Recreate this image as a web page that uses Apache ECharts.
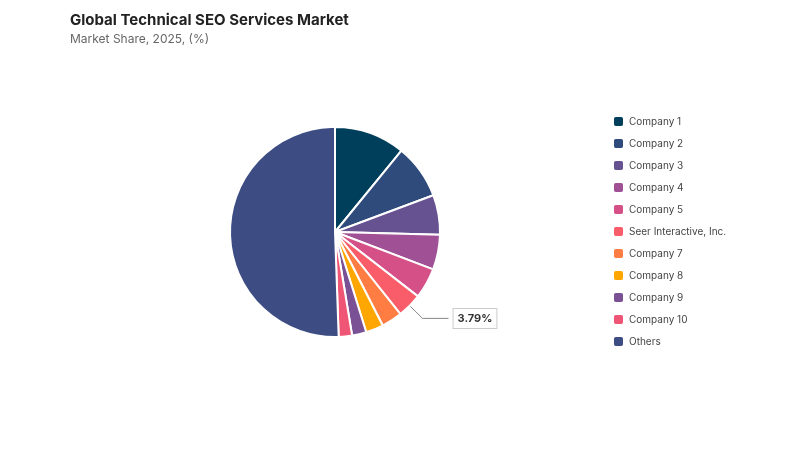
<!DOCTYPE html>
<html>
<head>
<meta charset="utf-8">
<script src="https://cdn.jsdelivr.net/npm/echarts@6/dist/echarts.min.js"></script>
<style>
html,body{margin:0;padding:0;background:#fff;}
#chart{width:800px;height:450px;}
</style>
</head>
<body>
<div id="chart"></div>
<script>
const categories = ["Company 1","Company 2","Company 3","Company 4","Company 5","Seer Interactive, Inc.","Company 7","Company 8","Company 9","Company 10","Others"];
const shares = [10.9, 8.4, 6.1, 5.4, 4.7, 3.79, 3.2, 2.7, 2.2, 2.05, 50.56];
const colors = ["#003f5c","#2f4b7c","#665191","#a05195","#d45087","#f95d6a","#ff7c43","#ffa600","#7a5195","#ef5675","#3d4d84"];
const labelledName = "Seer Interactive, Inc.";

const data = categories.map((n, i) => {
  const d = { name: n, value: shares[i], itemStyle: { color: colors[i] } };
  if (n === labelledName) {
    d.label = { show: true };
    d.labelLine = { show: true };
  }
  return d;
});

const chart = echarts.init(document.getElementById('chart'));
chart.setOption({
  animation: false,
  title: {
    text: 'Global Technical SEO Services Market',
    subtext: 'Market Share, 2025, (%)',
    left: 65,
    top: 8,
    itemGap: 5,
    textStyle: { fontFamily: 'Inter', fontSize: 15, fontWeight: 'bold', color: '#222' },
    subtextStyle: { fontFamily: 'Inter', fontSize: 12, color: '#666' }
  },
  legend: {
    orient: 'vertical',
    left: 612,
    top: 115,
    padding: 0,
    itemWidth: 11,
    itemHeight: 11,
    itemGap: 9,
    itemTextGap: 3,
    icon: 'roundRect',
    textStyle: { fontFamily: 'Inter', fontSize: 10, color: '#444' },
    data: categories
  },
  series: [{
    type: 'pie',
    center: [335, 232],
    radius: [0, 105],
    startAngle: 90,
    clockwise: true,
    itemStyle: { borderColor: '#fff', borderWidth: 2 },
    label: {
      show: false,
      position: 'outside',
      formatter: '{c}%',
      fontFamily: 'Inter',
      fontSize: 11,
      fontWeight: 'bold',
      color: '#333',
      backgroundColor: '#fff',
      borderColor: '#ccc',
      borderWidth: 1,
      padding: [4, 4]
    },
    labelLine: {
      show: false,
      length: 18,
      length2: 26,
      lineStyle: { color: '#888', width: 1 }
    },
    emphasis: { disabled: true },
    data: data
  }]
});
</script>
</body>
</html>
